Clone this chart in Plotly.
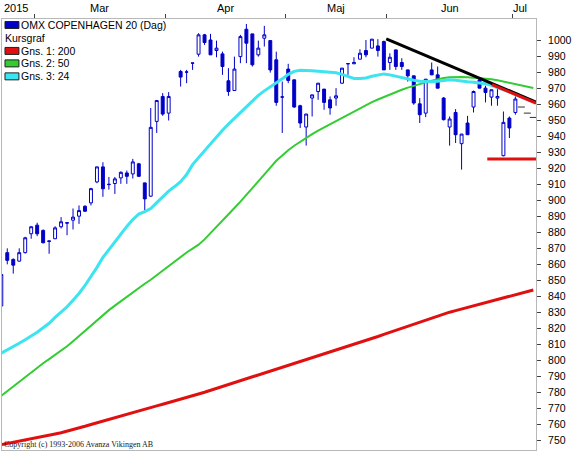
import plotly.graph_objects as go

# OMX Copenhagen 20, daily candles. day 0 = 20 Feb 2015, one slot per trading day
# slot 29 (2 Apr) is in the calendar but has no quote
day = list(range(87))

opens = [834.2, 867.5, 863.3, 862.2, 867.5, 879.3, 884.7, 881.4, 874.5, 876.2,
         883.7, 886.2, 887.8, 890.3, 896.5, 898.6, 911.7, 921.1, 910.0, 910.7,
         914.2, 917.3, 916.7, 923.0, 911.1, 902.8, 949.5, 965.1, 954.7, None,
         980.7, 980.3, 985.9, 991.5, 1003.6, 1000.4, 993.8, 991.7, 974.9, 968.8,
         990.0, 1007.1, 1004.2, 991.1, 1001.5, 1000.0, 988.0, 964.7, 982.2, 975.5,
         959.3, 946.0, 964.1, 968.2, 969.7, 963.0, 964.1, 973.4, 985.5, 985.5,
         988.4, 993.8, 995.3, 996.7, 999.4, 986.3, 994.2, 986.3, 981.7, 978.0,
         960.5, 954.7, 981.7, 978.6, 964.1, 946.0, 955.1, 935.6, 948.5, 958.5,
         975.5, 970.3, 964.7, 964.1, 928.1, 951.6, 955.1]
highs = [854.0, 870.2, 863.9, 870.2, 877.4, 884.0, 886.2, 882.0, 874.9, 884.0,
         889.7, 886.3, 895.1, 897.0, 897.1, 908.0, 921.2, 924.0, 914.8, 914.8,
         918.3, 918.8, 926.1, 923.6, 911.2, 957.9, 962.8, 967.2, 967.8, None,
         981.7, 981.7, 986.0, 1004.6, 1004.2, 1004.2, 1000.0, 993.1, 982.8, 990.0,
         1003.6, 1010.4, 1004.3, 1000.0, 1009.2, 1000.3, 993.1, 974.4, 985.5, 975.6,
         959.9, 954.3, 966.2, 973.5, 969.8, 965.1, 970.3, 982.9, 985.6, 989.6,
         994.6, 1000.4, 1001.0, 1000.9, 1000.0, 992.1, 994.3, 989.0, 981.8, 978.1,
         964.1, 976.0, 986.3, 983.8, 964.7, 952.6, 957.2, 941.7, 953.0, 968.8,
         977.2, 971.8, 969.4, 969.7, 955.7, 952.6, 965.1]
lows = [834.0, 860.2, 854.4, 861.9, 867.0, 876.2, 877.8, 873.3, 866.8, 876.0,
        882.6, 878.4, 882.0, 885.5, 893.0, 897.0, 910.9, 902.4, 906.9, 904.2,
        910.5, 910.5, 913.8, 914.8, 894.0, 902.4, 942.3, 953.0, 950.1, None,
        971.3, 973.4, 981.7, 990.0, 997.3, 991.0, 989.6, 978.6, 965.5, 968.7,
        985.9, 985.9, 983.8, 990.0, 996.3, 980.0, 959.3, 942.3, 973.4, 958.0,
        945.4, 934.4, 952.6, 963.0, 956.8, 953.7, 959.3, 973.0, 978.6, 985.4,
        988.3, 989.6, 995.2, 990.0, 981.6, 981.7, 981.7, 981.7, 974.4, 959.9,
        948.5, 952.2, 978.5, 970.2, 950.1, 934.4, 936.0, 919.4, 941.1, 955.1,
        970.2, 961.4, 959.3, 959.3, 927.7, 939.1, 953.7]
closes = [853.9, 862.7, 859.7, 867.5, 876.8, 883.7, 879.3, 873.7, 874.8, 883.0,
          886.8, 886.0, 889.7, 893.8, 893.4, 907.5, 921.1, 907.4, 910.2, 913.6,
          917.7, 915.2, 924.2, 915.2, 901.1, 945.8, 962.6, 954.1, 965.1, None,
          977.2, 980.4, 986.0, 1003.6, 998.8, 991.1, 995.3, 983.8, 968.2, 982.2,
          1002.5, 998.4, 984.9, 995.3, 1003.6, 981.7, 961.4, 964.8, 975.1, 958.5,
          948.5, 954.1, 966.1, 973.4, 961.4, 957.9, 965.5, 982.8, 985.6, 986.3,
          992.1, 991.1, 1000.9, 993.8, 981.7, 989.6, 983.8, 983.8, 978.0, 961.0,
          953.7, 975.9, 978.6, 970.3, 950.6, 951.0, 941.2, 941.6, 941.2, 968.2,
          970.3, 967.6, 969.3, 965.1, 948.9, 945.4, 963.5]

# the three last slots only carry a single level
flat_days = [87, 88, 89]
flat_vals = [958.5, 954.7, 952.0]

# moving averages, one value per slot 0..89
ma_days = list(range(90))
ma200 = [747.5, 748.2, 748.9, 749.6, 750.3, 751.0, 751.8, 752.6, 753.4, 754.2,
         755.0, 755.9, 756.9, 757.9, 759.0, 760.1, 761.2, 762.3, 763.4, 764.5,
         765.6, 766.7, 767.8, 768.8, 769.8, 770.8, 771.8, 772.8, 773.8, 774.9,
         776.0, 777.0, 778.1, 779.2, 780.3, 781.5, 782.6, 783.8, 784.9, 786.1,
         787.2, 788.4, 789.5, 790.7, 791.9, 793.1, 794.3, 795.5, 796.7, 797.9,
         799.1, 800.3, 801.5, 802.7, 803.9, 805.1, 806.4, 807.6, 808.8, 810.0,
         811.3, 812.5, 813.8, 815.1, 816.4, 817.7, 819.0, 820.3, 821.6, 822.9,
         824.2, 825.5, 826.8, 828.0, 829.2, 830.3, 831.3, 832.3, 833.3, 834.3,
         835.4, 836.5, 837.6, 838.6, 839.6, 840.6, 841.5, 842.4, 843.3, 844.2]
ma50 = [778.0, 781.0, 784.0, 787.0, 790.0, 793.0, 795.8, 798.4, 801.0, 803.6,
        806.3, 809.0, 812.2, 815.5, 818.8, 822.1, 825.5, 828.7, 831.6, 834.4,
        837.2, 840.0, 842.8, 845.5, 848.1, 850.6, 853.4, 856.4, 859.5, 862.2,
        864.9, 867.6, 870.0, 872.5, 875.8, 879.6, 883.5, 887.4, 891.4, 895.4,
        899.4, 903.5, 907.6, 911.8, 916.2, 920.6, 924.9, 928.4, 931.5, 934.3,
        936.9, 939.3, 941.6, 943.8, 945.8, 947.7, 949.5, 951.6, 953.8, 955.9,
        958.0, 959.8, 961.6, 963.2, 964.8, 966.4, 967.9, 969.3, 970.6, 971.8,
        972.9, 973.9, 974.9, 975.8, 976.6, 977.1, 977.3, 977.3, 977.1, 976.9,
        976.6, 976.3, 975.9, 975.2, 974.4, 973.6, 972.8, 972.0, 971.2, 970.4]
ma24 = [804.7, 806.6, 808.7, 810.9, 813.1, 815.3, 817.8, 820.6, 823.4, 827.1,
        830.2, 833.7, 837.8, 842.0, 847.0, 852.5, 858.3, 864.5, 869.5, 874.5,
        879.5, 883.9, 888.2, 891.6, 893.2, 895.1, 898.8, 902.6, 906.0, 908.8,
        911.9, 916.3, 922.5, 926.9, 931.2, 935.6, 940.0, 944.0, 947.8, 951.5,
        955.2, 959.0, 962.7, 965.8, 968.6, 971.1, 973.3, 976.1, 978.9, 980.8,
        981.4, 981.4, 981.1, 980.8, 980.5, 980.2, 979.9, 978.9, 977.4, 976.4,
        976.4, 976.7, 977.7, 978.6, 979.2, 978.6, 977.7, 976.7, 976.1, 975.2,
        974.6, 974.3, 974.3, 974.6, 975.2, 975.5, 975.2, 974.6, 974.3, 974.0,
        973.6, 973.0, 972.1, 970.8, 969.6, 968.0, 966.5, 964.9, 963.3, 961.8]

# hand drawn lines: falling trend (black), its last part (red), support (red)
trend_x = [64.4, 89.45]
trend_y = [1001.1, 961.6]
trend2_x = [82.1, 89.45]
trend2_y = [972.5, 960.9]
support_x = [81.3, 89.45]
support_y = [926.1, 926.1]

# top axis: month boundaries and labels
month_edges = [5.5, 27.5, 47.5, 64.5, 85.5]
month_names = ['2015', 'Mar', 'Apr', 'Maj', 'Jun', 'Jul']
month_pos = [2.4, 16.5, 37.5, 56.0, 75.0, 86.7]

price_ticks = list(range(750, 1001, 10))

BLUE = '#0000c8'
RED = '#e01010'
GREEN = '#33cc33'
CYAN = '#3ce4f0'
FONT = 'Liberation Sans, Arial, sans-serif'

W, H = 573, 452
L, R, T, B = 1, 36, 19, 1


def paper_x(px):
    return (px - L) / (W - L - R)


def paper_y(py):
    return (H - B - py) / (H - T - B)


fig = go.Figure()

keep = [i for i in day if opens[i] is not None]
fig.add_trace(go.Candlestick(
    x=keep,
    open=[opens[i] for i in keep],
    high=[highs[i] for i in keep],
    low=[lows[i] for i in keep],
    close=[closes[i] for i in keep],
    increasing=dict(line=dict(color=BLUE, width=1), fillcolor='white'),
    decreasing=dict(line=dict(color=BLUE, width=1), fillcolor=BLUE),
    whiskerwidth=0,
    hoverinfo='skip',
))
fig.add_trace(go.Scatter(
    x=flat_days, y=flat_vals, mode='markers',
    marker=dict(symbol='line-ew', size=5, line=dict(color='#303030', width=1)),
    hoverinfo='skip',
))

fig.add_trace(go.Scatter(x=ma_days, y=ma200, mode='lines',
                         line=dict(color=RED, width=3), hoverinfo='skip'))
fig.add_trace(go.Scatter(x=ma_days, y=ma50, mode='lines',
                         line=dict(color=GREEN, width=2), hoverinfo='skip'))
fig.add_trace(go.Scatter(x=ma_days, y=ma24, mode='lines',
                         line=dict(color=CYAN, width=3), hoverinfo='skip'))

fig.add_trace(go.Scatter(x=trend_x, y=trend_y, mode='lines',
                         line=dict(color='black', width=3), hoverinfo='skip'))
fig.add_trace(go.Scatter(x=trend2_x, y=trend2_y, mode='lines',
                         line=dict(color=RED, width=3), hoverinfo='skip'))
fig.add_trace(go.Scatter(x=support_x, y=support_y, mode='lines',
                         line=dict(color=RED, width=3), hoverinfo='skip'))

annotations = []
for name, pos in zip(month_names, month_pos):
    annotations.append(dict(x=pos, xref='x', y=paper_y(7.5), yref='paper',
                            text=name, showarrow=False, xanchor='center',
                            yanchor='middle', font=dict(size=11, color='black')))

# legend block, top left inside the plot
legend_rows = [('OMX COPENHAGEN 20 (Dag)', BLUE, 25),
               ('Kursgraf', None, 38.5),
               ('Gns. 1: 200', RED, 51),
               ('Gns. 2: 50', GREEN, 63.5),
               ('Gns. 3: 24', CYAN, 76.5)]
shapes = []
for text, color, cy in legend_rows:
    tx = 4 if color is None else 20.5
    annotations.append(dict(x=paper_x(tx), xref='paper', y=paper_y(cy), yref='paper',
                            text=text, showarrow=False, xanchor='left',
                            yanchor='middle', xshift=-2,
                            font=dict(size=10.5, color='black')))
    if color is not None:
        shapes.append(dict(type='rect', xref='paper', yref='paper',
                           x0=paper_x(4), x1=paper_x(18), y0=paper_y(cy + 3.5),
                           y1=paper_y(cy - 3.5), fillcolor=color,
                           line=dict(color='#202020', width=1)))

annotations.append(dict(x=paper_x(1), xref='paper', y=paper_y(445), yref='paper',
                        text='Copyright (c) 1993-2006 Avanza Vikingen AB',
                        showarrow=False, xanchor='left', yanchor='middle',
                        font=dict(family='Liberation Serif, Times New Roman, serif',
                                  size=8, color='#202020')))

fig.update_layout(
    width=W, height=H,
    margin=dict(l=L, r=R, t=T, b=B, pad=0),
    paper_bgcolor='white', plot_bgcolor='white',
    showlegend=False,
    font=dict(family=FONT, size=10.5, color='black'),
    annotations=annotations,
    shapes=shapes,
    boxgap=0.3,
    xaxis=dict(
        range=[0.117, 89.45], side='top', showgrid=False, zeroline=False,
        showline=True, linecolor='#b8b8b8', linewidth=1, mirror=True,
        tickvals=month_edges, ticks='outside', ticklen=4, tickcolor='#404040',
        showticklabels=False, rangeslider=dict(visible=False),
    ),
    yaxis=dict(
        range=[744.2, 1013.5], side='right', showgrid=False, zeroline=False,
        showline=True, linecolor='#b8b8b8', linewidth=1, mirror=True,
        tickvals=price_ticks, ticks='outside', ticklen=4, tickcolor='#404040',
        ticklabelstandoff=5, tickfont=dict(size=10.5, color='black'),
    ),
)

fig.write_html("out.html", config={'displayModeBar': False},
               post_script="document.body.style.margin='0';")
